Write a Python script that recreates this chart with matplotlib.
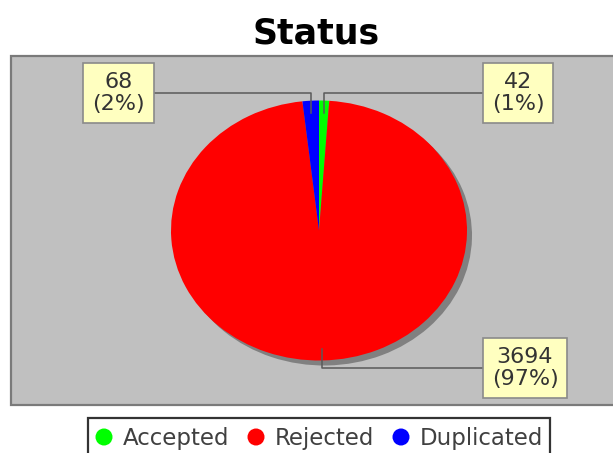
import numpy as np
import matplotlib
matplotlib.use('Agg')
import matplotlib.pyplot as plt
from matplotlib.patches import Rectangle, Circle

# data
categories = ['Accepted', 'Rejected', 'Duplicated']
counts = [42, 3694, 68]
colors = ['#00ff00', '#ff0000', '#0000ff']
title = 'Status'

W, H = 613, 453
fig = plt.figure(figsize=(W / 100, H / 100), dpi=100)
fig.patch.set_facecolor('white')

# pixel-coordinate overlay axes
ax = fig.add_axes([0, 0, 1, 1])
ax.set_xlim(0, W)
ax.set_ylim(H, 0)
ax.axis('off')


def fig_rect(x0, y0, w, h):
    return [x0 / W, 1 - (y0 + h) / H, w / W, h / H]


# plot area
ax.add_patch(Rectangle((11, 56), 616, 349, facecolor='#c0c0c0',
                       edgecolor='#7a7a7a', linewidth=1.6, zorder=0))

ax.text(316.5, 43, title, ha='center', va='baseline', fontsize=25,
        fontweight='bold', color='black')

# pie geometry (pixels)
cx, cy, rx, ry = 319, 230.5, 148, 130
shadow = 5

ax_sh = fig.add_axes(fig_rect(cx - rx + shadow, cy - ry + shadow, 2 * rx, 2 * ry))
ax_sh.pie(counts, colors=['#808080'] * len(counts), startangle=90,
          counterclock=False, wedgeprops=dict(linewidth=0))
ax_sh.set_xlim(-1, 1)
ax_sh.set_ylim(-1, 1)
ax_sh.set_aspect('auto')
ax_sh.axis('off')

ax_pie = fig.add_axes(fig_rect(cx - rx, cy - ry, 2 * rx, 2 * ry))
ax_pie.pie(counts, colors=colors, startangle=90, counterclock=False,
           wedgeprops=dict(linewidth=0, antialiased=True))
ax_pie.set_xlim(-1, 1)
ax_pie.set_ylim(-1, 1)
ax_pie.set_aspect('auto')
ax_pie.axis('off')

# labels with leader lines
ax_lab = fig.add_axes([0, 0, 1, 1])
ax_lab.set_xlim(0, W)
ax_lab.set_ylim(H, 0)
ax_lab.axis('off')

label_x = [518, 525, 118.5]
total = sum(counts)
start = 90.0
for v, lx in zip(counts, label_x):
    span = 360.0 * v / total
    mid = np.radians(start - span / 2)
    start -= span
    s = np.sign(np.sin(mid))
    px = cx + rx * np.cos(mid)
    py = cy - s * (ry - 12)
    ey = cy - s * (ry + 7.5)
    ax_lab.plot([lx, px, px], [ey, ey, py], color='#5a5a5a', lw=1.1, zorder=1)
    ax_lab.text(lx, ey, f'{v}\n({round(100 * v / total)}%)', ha='center',
                va='center', fontsize=16, color='#333333', linespacing=1.15,
                zorder=3,
                bbox=dict(boxstyle='square,pad=0.4', facecolor='#ffffc0',
                          edgecolor='#8a8a8a', linewidth=1.2))

# legend
ax_lab.add_patch(Rectangle((88, 418), 462, 50, facecolor='white',
                           edgecolor='#333333', linewidth=1.6, zorder=1))
legend_x = [104, 256, 401]
for name, col, x in zip(categories, colors, legend_x):
    ax_lab.add_patch(Circle((x, 437), 8.5, facecolor=col, edgecolor='none', zorder=2))
    ax_lab.text(x + 19, 438, name, ha='left', va='center', fontsize=16.5,
                color='#404040', zorder=2)

fig.savefig('out.png', dpi=100)
